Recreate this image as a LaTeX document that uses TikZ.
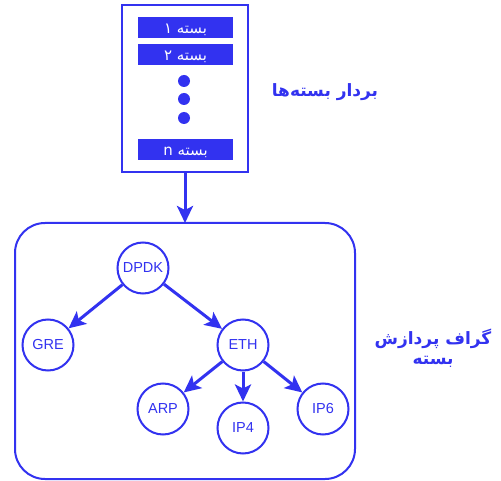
\documentclass[tikz,border=0pt]{standalone}
\usepackage{fontspec}
\setmainfont{Liberation Sans}
\newfontfamily\arabicfont[Script=Arabic]{DejaVu Sans}
\TeXXeTstate=1
\usetikzlibrary{arrows.meta}
\definecolor{pblue}{RGB}{50,50,240}
\begin{document}
\begin{tikzpicture}[x=1pt,y=-1pt,
  every node/.style={text=pblue},
  pnode/.style={circle,draw=pblue,line width=2pt,minimum size=51pt,inner sep=0pt,font=\fontsize{14.5}{15}\selectfont},
  bar/.style={fill=pblue,minimum width=95pt,minimum height=21pt,inner sep=0pt,text=white,
    text height=11.5pt,text depth=0pt,font=\arabicfont\fontsize{15}{15}\selectfont},
  dotmark/.style={circle,fill=pblue,minimum size=12pt,inner sep=0pt},
  edge/.style={line width=3pt,draw=pblue,-{Stealth[length=17pt,width=16pt,inset=4pt]}},
  title/.style={font=\arabicfont\bfseries\fontsize{17}{20}\selectfont}]
\useasboundingbox (0,0) rectangle (501,481);
\fill[white] (0,0) rectangle (501,481);

% packet vector
\node[draw=pblue,line width=2pt,minimum width=126pt,minimum height=167pt,inner sep=0pt] (vec) at (185,88.5) {};
\node[bar] (b1) at (185.5,27.5) {\beginR بسته ۱\endR};
\node[bar] (b2) at (185.5,54.5) {\beginR بسته ۲\endR};
\node[dotmark] (d1) at (184,81) {};
\node[dotmark] (d2) at (184,99) {};
\node[dotmark] (d3) at (184,118) {};
\node[bar] (bn) at (185.5,149.5) {\beginR بسته\ \beginL n\endL\endR};
\node[title] (vlabel) at (325,92) {\beginR بردار بسته‌ها\endR};

% processing graph frame
\node[draw=pblue,line width=2pt,rounded corners=30pt,minimum width=340pt,minimum height=256pt,inner sep=0pt] (graph) at (185,351) {};
\coordinate (gtop) at (185,223);
\draw[edge] (vec.south) -- (gtop);
\node[title,align=center] (glabel) at (433,348) {\beginR گراف پردازش\endR\\[0pt]\beginR بسته\endR};

% graph nodes
\node[pnode] (dpdk) at (143,268) {DPDK};
\node[pnode] (gre) at (48,345) {GRE};
\node[pnode] (eth) at (243,345) {ETH};
\node[pnode] (arp) at (163,409) {ARP};
\node[pnode] (ip4) at (243,428) {IP4};
\node[pnode] (ip6) at (323,409) {IP6};

\draw[edge] (dpdk) -- (gre);
\draw[edge] (dpdk) -- (eth);
\draw[edge] (eth) -- (arp);
\draw[edge] (eth) -- (ip4);
\draw[edge] (eth) -- (ip6);
\end{tikzpicture}
\end{document}
